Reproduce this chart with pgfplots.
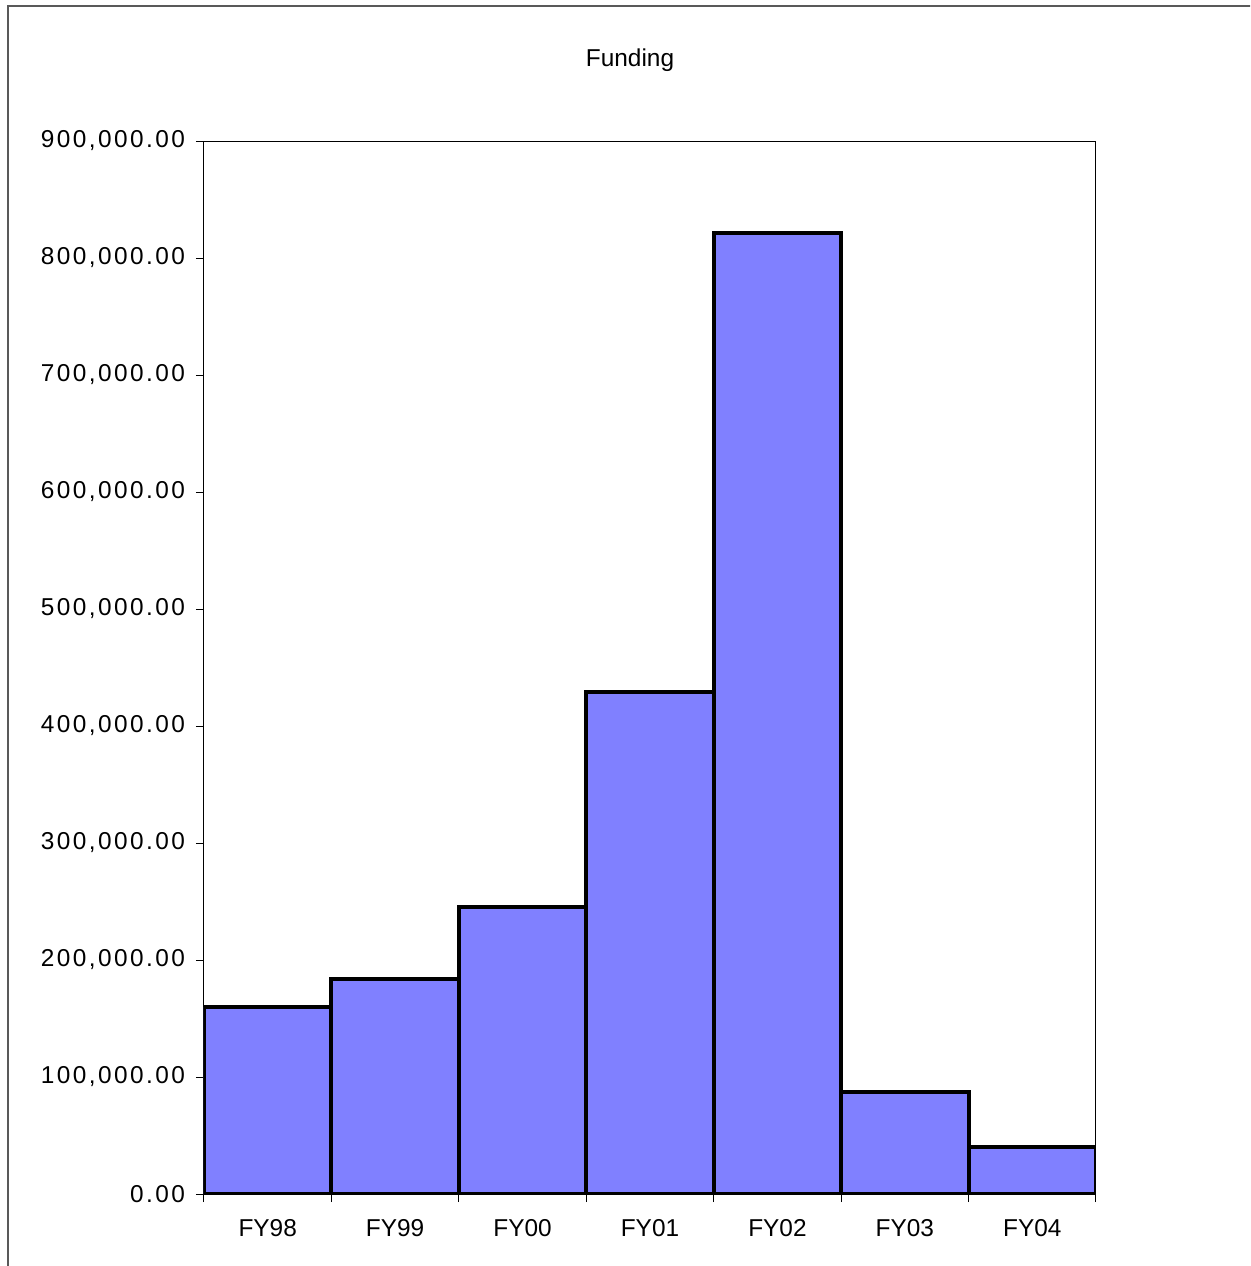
\documentclass[border=0pt]{standalone}
\usepackage{pgfplots}
\pgfplotsset{compat=1.18}
\usepackage{fontspec}
\setmainfont{Liberation Sans}
\newfontfamily\spaced[LetterSpace=10]{Liberation Sans}
\definecolor{barblue}{HTML}{8080FF}

\begin{document}
\begin{tikzpicture}
% page = 1250 x 1266 px, 1 px = 0.5pt, origin at top left
\useasboundingbox (0,0) rectangle (625pt,-633pt);
\clip (0,0) rectangle (625pt,-633pt);
\draw[gray!70!black, line width=0.6pt] (4pt,-700pt) |- (700pt,-3pt);
\node[font=\fontsize{12.2}{14}\selectfont] at (315pt,-30pt) {Funding};
\begin{axis}[
    at={(102pt,-597pt)}, anchor=south west,
    scale only axis,
    width=446pt, height=526.5pt,
    ybar, bar width=1,
    xmin=0.5, xmax=7.5,
    ymin=0, ymax=900000,
    xtick={1,...,7},
    xticklabels={FY98,FY99,FY00,FY01,FY02,FY03,FY04},
    minor xtick={0.5,1.5,...,7.5},
    major x tick style={draw=none},
    minor x tick style={black, line width=0.5pt},
    ytick={0,100000,...,900000},
    yticklabels={{0.00},{100,000.00},{200,000.00},{300,000.00},{400,000.00},{500,000.00},{600,000.00},{700,000.00},{800,000.00},{900,000.00}},
    scaled y ticks=false,
    tick align=outside,
    tick pos=left,
    major tick length=4pt,
    minor tick length=4pt,
    y tick style={black, line width=0.5pt},
    axis line style={line width=0.5pt},
    yticklabel style={font=\fontsize{12.2}{14}\selectfont\spaced, xshift=-2pt},
    xticklabel style={font=\fontsize{12.2}{14}\selectfont, yshift=-5pt},
]
\addplot[fill=barblue, draw=black, line width=2pt] coordinates {
    (1,160000) (2,183500) (3,245000) (4,429300) (5,821600) (6,87400) (7,39900)
};
\end{axis}
\end{tikzpicture}
\end{document}
